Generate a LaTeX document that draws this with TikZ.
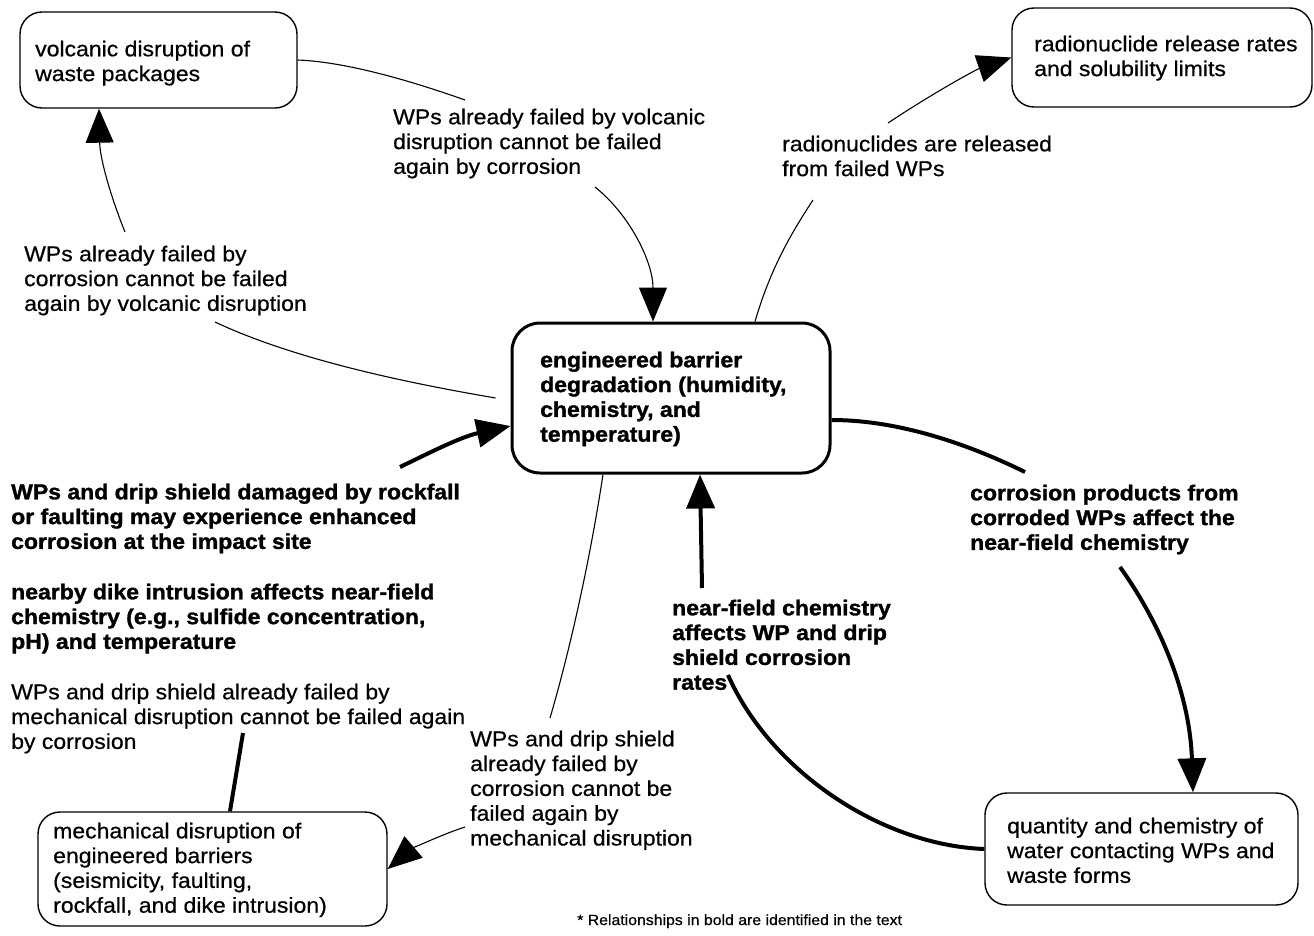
\documentclass[tikz,border=0pt]{standalone}
\usepackage{fontspec}
\setmainfont{Liberation Sans}[FakeStretch=1.07]
\newfontfamily\regfont{Liberation Sans}[FakeStretch=1.07, FakeBold=0.6]
\newfontfamily\heavyfont{Liberation Sans Bold}[FakeStretch=1.07, FakeBold=1.4]
\usetikzlibrary{arrows.meta}

\begin{document}
\begin{tikzpicture}[x=1pt,y=-1pt,
  boxshape/.style={draw, line width=1.4pt, rounded corners=22pt, inner sep=0pt},
  mainbox/.style={draw, line width=3pt, rounded corners=28pt, inner sep=0pt},
  txt/.style={anchor=north west, inner sep=0pt, align=left,
    font=\regfont\fontsize{21.5}{24.8}\selectfont,
    execute at begin node={\rule{0pt}{16.5pt}}},
  btxt/.style={txt, font=\heavyfont\fontsize{21.5}{24.8}\selectfont},
  thinline/.style={line width=1.1pt},
  thickline/.style={line width=4pt},
  tip/.style={-{Triangle[length=34pt,width=28pt]}}
]
\useasboundingbox (0,0) rectangle (1314,935);

% boxes
\node[boxshape, minimum width=277pt, minimum height=96pt] (volc) at (158.5,60) {};
\node[boxshape, minimum width=300pt, minimum height=99pt] (rad) at (1162,57.5) {};
\node[mainbox, minimum width=318pt, minimum height=150pt] (ceb) at (671,398) {};
\node[boxshape, minimum width=349pt, minimum height=114pt] (mech) at (212.5,869) {};
\node[boxshape, minimum width=313pt, minimum height=112pt] (quan) at (1141.5,849) {};

% box texts
\node[txt] (volct) at (35,40.5) {volcanic disruption of\\waste packages};
\node[txt] (radt) at (1034,35.5) {radionuclide release rates\\and solubility limits};
\node[btxt] (cebt) at (540,351.5) {engineered barrier\\degradation (humidity,\\chemistry, and\\temperature)};
\node[txt] (mecht) at (53,822.5) {mechanical disruption of\\engineered barriers\\(seismicity, faulting,\\rockfall, and dike intrusion)};
\node[txt] (quant) at (1007,817.5) {quantity and chemistry of\\water contacting WPs and\\waste forms};

% relationship labels
\node[txt] (t3) at (393,108.5) {WPs already failed by volcanic\\disruption cannot be failed\\again by corrosion};
\node[txt] (t4) at (782,135.5) {radionuclides are released\\from failed WPs};
\node[txt] (t5) at (24,245.5) {WPs already failed by\\corrosion cannot be failed\\again by volcanic disruption};
\node[btxt] (t7) at (11,483.5) {WPs and drip shield damaged by rockfall\\or faulting may experience enhanced\\corrosion at the impact site};
\node[btxt] (t8) at (11,583.5) {nearby dike intrusion affects near-field\\chemistry (e.g., sulfide concentration,\\pH) and temperature};
\node[txt] (t9) at (11,683.5) {WPs and drip shield already failed by\\mechanical disruption cannot be failed again\\by corrosion};
\node[btxt] (t10) at (970,484.5) {corrosion products from\\corroded WPs affect the\\near-field chemistry};
\node[btxt] (t11) at (672,599.5) {near-field chemistry\\affects WP and drip\\shield corrosion\\rates};
\node[txt] (t12) at (470,730.5) {WPs and drip shield\\already failed by\\corrosion cannot be\\failed again by\\mechanical disruption};
\node[anchor=base west, inner sep=0pt, font=\regfont\fontsize{14.8}{17}\selectfont] (foot) at (577,925) {* Relationships in bold are identified in the text};

% free ends of connectors next to the labels
\coordinate (a1) at (465,100);
\coordinate (a2) at (595,187);
\coordinate (b1) at (813,200);
\coordinate (b2) at (888,123);
\coordinate (c1) at (215,322);
\coordinate (c2) at (125,232);
\coordinate (d1) at (400,467);
\coordinate (e1) at (243,733);
\coordinate (f1) at (550,718);
\coordinate (f2) at (465,827);
\coordinate (g1) at (1025,472);
\coordinate (g2) at (1120,567);
\coordinate (h1) at (728,675);
\coordinate (h2) at (702,588);

% volcanic disruption -> engineered barrier degradation
\draw[thinline] (volc.east) .. controls (350,62) and (420,84) .. (a1);
\draw[thinline, tip] (a2) .. controls (630,215) and (653,262) .. ([xshift=-18pt]ceb.north);

% engineered barrier degradation -> radionuclide release
\draw[thinline] ([xshift=84pt]ceb.north) .. controls (770,270) and (790,235) .. (b1);
\draw[thinline, tip] (b2) .. controls (930,95) and (975,70) .. (rad.west);

% engineered barrier degradation -> volcanic disruption
\draw[thinline] ([xshift=-15pt]ceb.west) .. controls (420,385) and (300,362) .. (c1);
\draw[thinline, tip] (c2) .. controls (112,200) and (100,160) .. ([xshift=-59.5pt]volc.south);

% mechanical disruption -> engineered barrier degradation
\draw[thickline] ([xshift=17.5pt]mech.north) -- (e1);
\draw[thickline, tip] (d1) .. controls (425,455) and (460,437) .. ([yshift=-28pt]ceb.west);

% engineered barrier degradation -> mechanical disruption
\draw[thinline] ([xshift=-68pt]ceb.south) .. controls (590,560) and (570,650) .. (f1);
\draw[thinline, tip] (f2) .. controls (440,835) and (410,850) .. (mech.east);

% engineered barrier degradation -> water contacting WPs
\draw[thickline] ([yshift=-22pt]ceb.east) .. controls (900,420) and (970,445) .. (g1);
\draw[thickline, tip] (g2) .. controls (1165,630) and (1190,700) .. ([xshift=51.5pt]quan.north);

% water contacting WPs -> engineered barrier degradation
\draw[thickline] (quan.west) .. controls (880,845) and (770,770) .. (h1);
\draw[thickline, tip] (h2) -- ([xshift=29pt]ceb.south);
\end{tikzpicture}
\end{document}
